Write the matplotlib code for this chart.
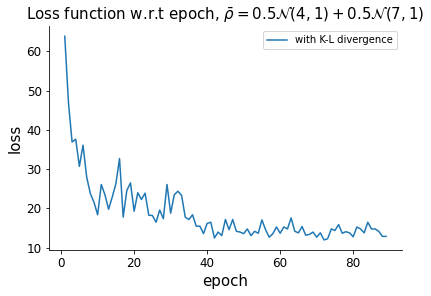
from matplotlib import pyplot as plt
import numpy as np

# loss per epoch
epochs = np.arange(1, 90)
loss_kl = [
    63.8, 47.1, 36.9, 37.6, 30.7, 36.1, 28.0, 23.8, 21.6, 18.4,
    26.1, 23.5, 19.8, 22.9, 26.3, 32.7, 17.8, 24.6, 26.5, 19.3,
    24.0, 22.3, 23.9, 18.3, 18.2, 16.5, 19.6, 17.4, 26.1, 18.8,
    23.5, 24.4, 23.3, 17.8, 17.2, 18.4, 15.5, 15.5, 13.6, 16.2,
    16.5, 12.5, 14.0, 13.1, 17.2, 14.6, 17.2, 14.2, 14.0, 13.6,
    14.8, 13.1, 14.2, 13.7, 17.1, 14.6, 12.7, 13.6, 15.3, 13.7,
    15.3, 14.8, 17.6, 14.2, 13.8, 15.4, 13.2, 13.4, 14.0, 12.7,
    13.8, 12.0, 12.3, 14.8, 14.4, 15.9, 13.7, 14.1, 13.8, 12.8,
    15.3, 14.8, 13.8, 16.5, 14.8, 14.8, 14.2, 12.9, 12.9,
]

fig = plt.figure(figsize=(431 / 72, 296 / 72), dpi=72)
ax = fig.add_axes([0.113, 0.155, 0.82, 0.757])
ax.plot(epochs, loss_kl, color='#1f77b4', linewidth=1.5, label='with K-L divergence')
ax.set_title(r'Loss function w.r.t epoch, $\bar{\rho} = 0.5\mathcal{N}(4, 1) + 0.5\mathcal{N}(7, 1)$',
             fontsize=15)
ax.set_xlabel('epoch', fontsize=15)
ax.set_ylabel('loss', fontsize=15)
ax.tick_params(labelsize=12)
ax.set_xticks([0, 20, 40, 60, 80])
ax.set_yticks([10, 20, 30, 40, 50, 60])
ax.spines['top'].set_visible(False)
ax.spines['right'].set_visible(False)
ax.legend(loc='upper right', fontsize=10)
plt.savefig('out.png', dpi=72)
plt.close(fig)
